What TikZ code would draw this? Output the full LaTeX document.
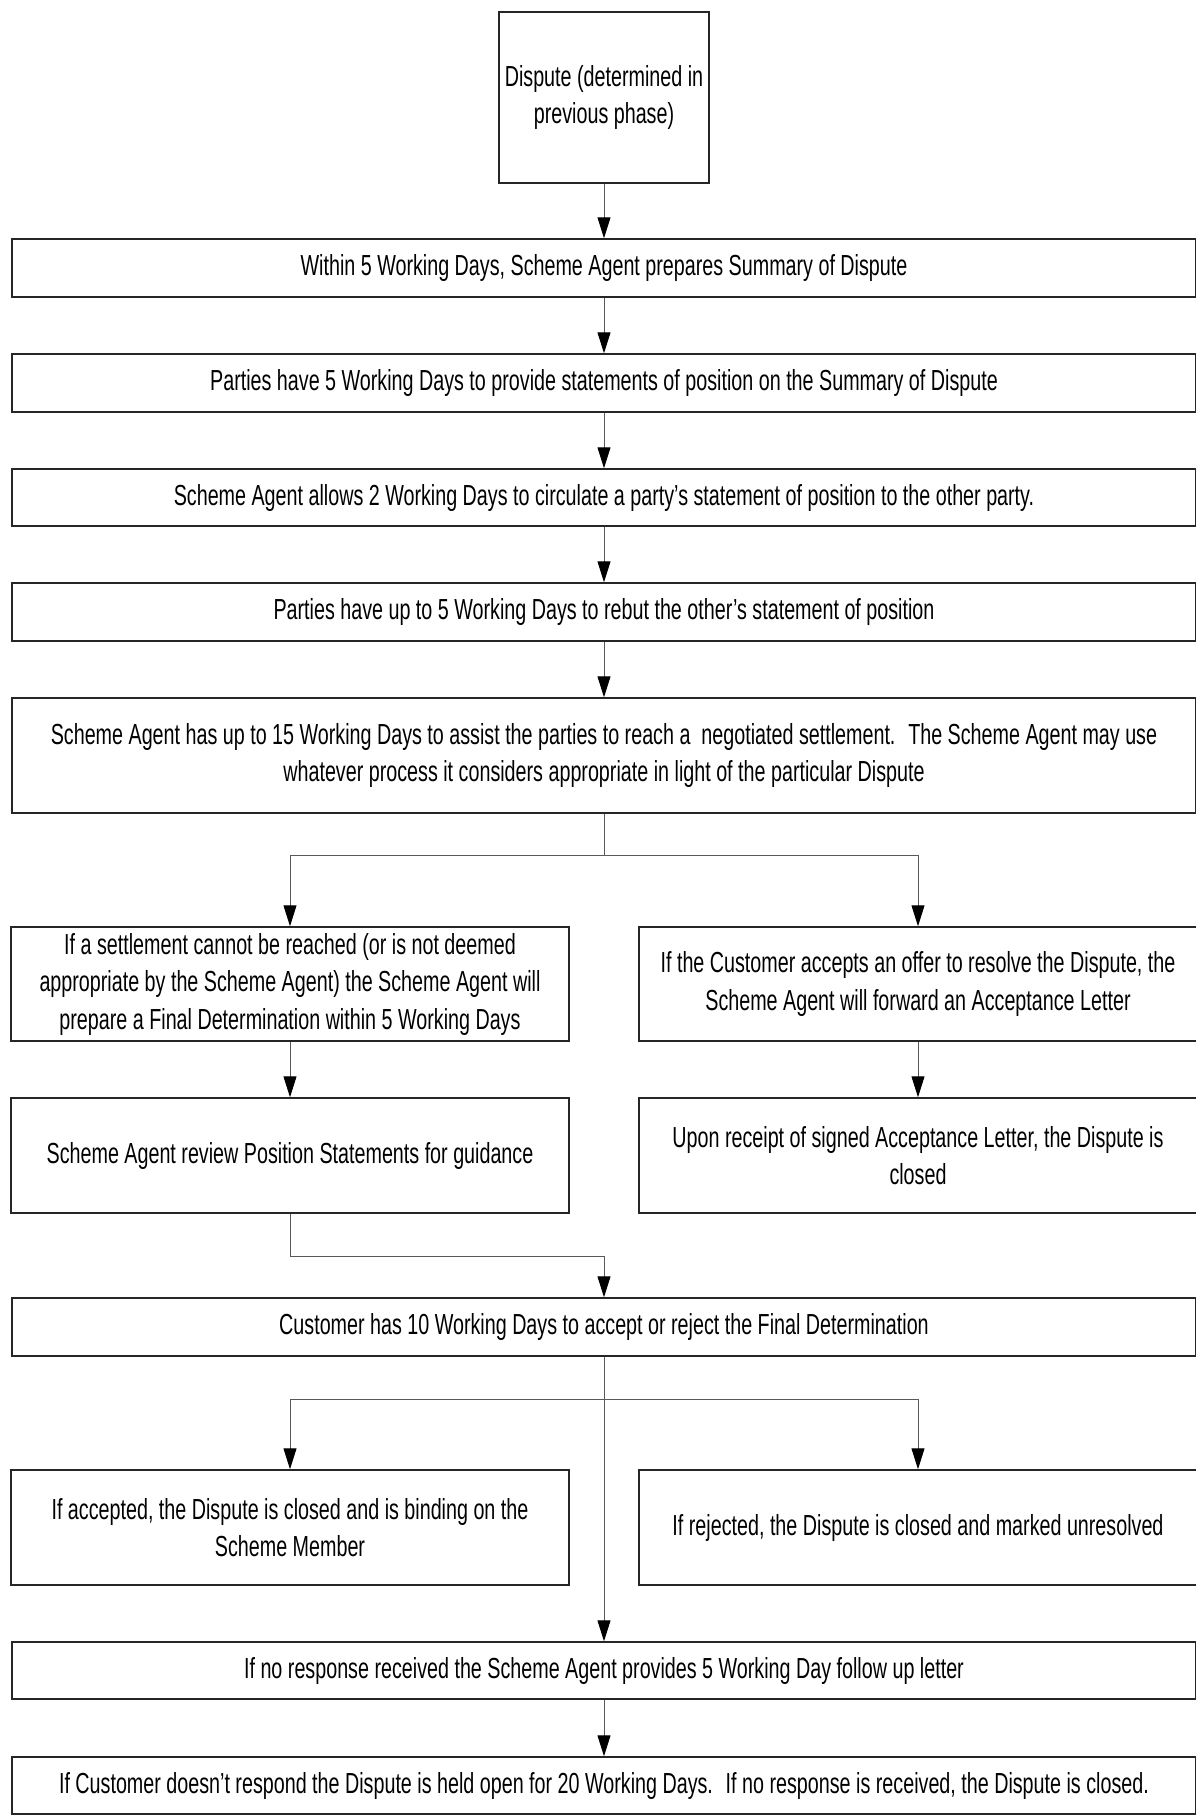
\documentclass[tikz,border=0pt]{standalone}
\usepackage{fontspec}
\setmainfont{Liberation Sans}[FakeStretch=0.68]
\usetikzlibrary{arrows.meta}
\tikzset{
  box/.style={draw=black!85, line width=1.5pt, fill=white, inner sep=0pt, align=center,
    font=\fontsize{29}{37.5}\selectfont},
  conn/.style={draw=black!65, line width=1pt},
  arr/.style={conn, -{Triangle[length=21pt,width=13pt,black]}}
}
\begin{document}
\begin{tikzpicture}[x=1pt,y=-1pt]
\useasboundingbox (0,0) rectangle (1195,1816);
\fill[white] (0,0) rectangle (1195,1816);
% boxes
\node[box, minimum width=210pt, minimum height=171pt] (top) at (604,97.5) {Dispute (determined in\\previous phase)};
\node[box, minimum width=1184pt, minimum height=58pt] (b1) at (604,268) {Within 5 Working Days, Scheme Agent prepares Summary of Dispute};
\node[box, minimum width=1184pt, minimum height=58pt] (b2) at (604,383) {Parties have 5 Working Days to provide statements of position on the Summary of Dispute};
\node[box, minimum width=1184pt, minimum height=57pt] (b3) at (604,497.5) {Scheme Agent allows 2 Working Days to circulate a party’s statement of position to the other party.};
\node[box, minimum width=1184pt, minimum height=58pt] (b4) at (604,612) {Parties have up to 5 Working Days to rebut the other’s statement of position};
\node[box, minimum width=1184pt, minimum height=115pt] (b5) at (604,755.5) {Scheme Agent has up to 15 Working Days to assist the parties to reach a~ negotiated settlement.~ The Scheme Agent may use\\whatever process it considers appropriate in light of the particular Dispute};
\node[box, minimum width=558pt, minimum height=114pt] (la) at (290,984) {If a settlement cannot be reached (or is not deemed\\appropriate by the Scheme Agent) the Scheme Agent will\\prepare a Final Determination within 5 Working Days};
\node[box, minimum width=558pt, minimum height=114pt] (ra) at (918,984) {If the Customer accepts an offer to resolve the Dispute, the\\Scheme Agent will forward an Acceptance Letter};
\node[box, minimum width=558pt, minimum height=115pt] (lc) at (290,1155.5) {Scheme Agent review Position Statements for guidance};
\node[box, minimum width=558pt, minimum height=115pt] (rc) at (918,1155.5) {Upon receipt of signed Acceptance Letter, the Dispute is\\closed};
\node[box, minimum width=1184pt, minimum height=58pt] (b6) at (604,1327) {Customer has 10 Working Days to accept or reject the Final Determination};
\node[box, minimum width=558pt, minimum height=115pt] (ld) at (290,1527.5) {If accepted, the Dispute is closed and is binding on the\\Scheme Member};
\node[box, minimum width=558pt, minimum height=115pt] (rd) at (918,1527.5) {If rejected, the Dispute is closed and marked unresolved};
\node[box, minimum width=1184pt, minimum height=57pt] (b7) at (604,1670.5) {If no response received the Scheme Agent provides 5 Working Day follow up letter};
\node[box, minimum width=1184pt, minimum height=57pt] (b8) at (604,1785.5) {If Customer doesn’t respond the Dispute is held open for 20 Working Days.~ If no response is received, the Dispute is closed.};
% connectors
\coordinate (j1) at (604,855);
\coordinate (m1) at (604,1256);
\coordinate (j2) at (604,1399);
\draw[arr] (top) -- (b1);
\draw[arr] (b1) -- (b2);
\draw[arr] (b2) -- (b3);
\draw[arr] (b3) -- (b4);
\draw[arr] (b4) -- (b5);
\draw[conn] (b5.south) -- (j1);
\draw[arr] (j1) -| (la);
\draw[arr] (j1) -| (ra);
\draw[arr] (la) -- (lc);
\draw[arr] (ra) -- (rc);
\draw[conn] (lc.south) |- (m1);
\draw[arr] (m1) -- (b6);
\draw[arr] (j2) -| (ld);
\draw[arr] (j2) -| (rd);
\draw[arr] (b6) -- (b7);
\draw[arr] (b7) -- (b8);
\end{tikzpicture}
\end{document}
